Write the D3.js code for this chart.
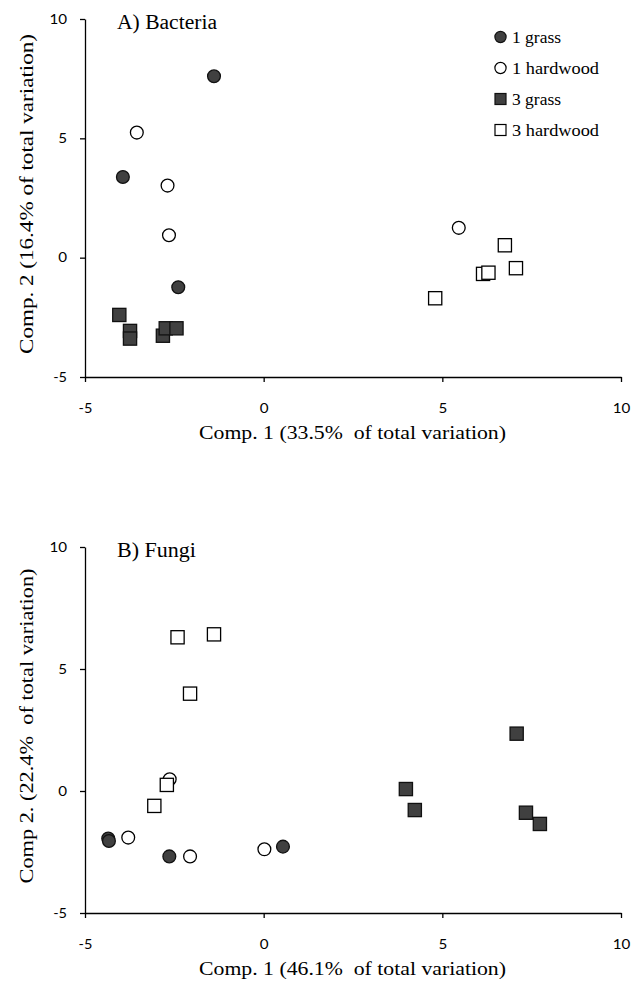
<!DOCTYPE html>
<html><head><meta charset="utf-8">
<script src="https://cdn.jsdelivr.net/npm/d3@7"></script>
<style>body{margin:0;background:#fff}svg{display:block}</style>
</head><body><div id="c"></div>
<script>
// ---- data ----
const groups = ["1 grass", "1 hardwood", "3 grass", "3 hardwood"];
const xTicks = [-5, 0, 5, 10];
const yTicks = [-5, 0, 5, 10];

// Panel A: Bacteria
const bacteria1Grass = [[-1.39, 7.60], [-3.94, 3.38], [-2.39, -1.24]];
const bacteria1Hardwood = [[-3.55, 5.24], [-2.69, 3.02], [-2.65, 0.94], [5.46, 1.25]];
const bacteria3Grass = [[-4.04, -2.40], [-3.74, -3.07], [-3.74, -3.39], [-2.82, -3.27], [-2.74, -2.96], [-2.44, -2.96]];
const bacteria3Hardwood = [[6.75, 0.52], [7.06, -0.44], [6.14, -0.68], [6.29, -0.63], [4.80, -1.70]];

// Panel B: Fungi
const fungi1Grass = [[-4.35, -1.95], [-4.33, -2.05], [-2.64, -2.68], [0.54, -2.28]];
const fungi1Hardwood = [[-2.63, 0.48], [-3.79, -1.91], [-2.06, -2.68], [0.02, -2.39]];
const fungi3Grass = [[7.08, 2.35], [3.98, 0.08], [4.23, -0.78], [7.34, -0.89], [7.73, -1.35]];
const fungi3Hardwood = [[-2.41, 6.30], [-1.39, 6.42], [-2.06, 3.99], [-2.71, 0.25], [-3.06, -0.61]];

const panels = [
  {title: "A) Bacteria", xLabel: "Comp. 1 (33.5%  of total variation)", yLabel: "Comp. 2 (16.4% of total variation)",
   series: [bacteria1Grass, bacteria1Hardwood, bacteria3Grass, bacteria3Hardwood],
   top: 19, bottom: 377, titleW: 100, yLabW: 320, legend: true},
  {title: "B) Fungi", xLabel: "Comp. 1 (46.1%  of total variation)", yLabel: "Comp 2. (22.4%  of total variation)",
   series: [fungi1Grass, fungi1Hardwood, fungi3Grass, fungi3Hardwood],
   top: 547, bottom: 913, titleW: 79, yLabW: 315, legend: false}
];

// ---- drawing ----
const W = 641, H = 994;
const svg = d3.select("#c").append("svg").attr("width", W).attr("height", H);
const left = 85, right = 621;
const darkFill = "#404040";
const styles = [
  {shape: "circle", fill: darkFill, stroke: "#111"},
  {shape: "circle", fill: "#fff", stroke: "#000"},
  {shape: "square", fill: darkFill, stroke: "#111"},
  {shape: "square", fill: "#fff", stroke: "#000"}
];
const serif = "'Liberation Serif','Times New Roman',serif";
const sans = "Lato, 'Open Sans', sans-serif";

function marker(g, st, x, y) {
  if (st.shape === "circle") {
    g.append("circle").attr("cx", x).attr("cy", y).attr("r", 6.4)
      .attr("fill", st.fill).attr("stroke", st.stroke).attr("stroke-width", 1.3);
  } else {
    g.append("rect").attr("x", x - 6.6).attr("y", y - 6.6).attr("width", 13.2).attr("height", 13.2)
      .attr("fill", st.fill).attr("stroke", st.stroke).attr("stroke-width", 1.3);
  }
}
function tickW(t) { const s = String(t); return s.replace("-", "").length * 8.8 + (s.includes("-") ? 5 : 0); }

panels.forEach(p => {
  const x = d3.scaleLinear().domain([-5, 10]).range([left, right]);
  const y = d3.scaleLinear().domain([-5, 10]).range([p.bottom, p.top]);
  const g = svg.append("g");

  const fmt = d => String(d);
  const xa = g.append("g").attr("transform", `translate(0,${p.bottom})`)
    .call(d3.axisBottom(x).tickValues(xTicks).tickFormat(fmt).tickSize(5).tickPadding(22).tickSizeOuter(0));
  const ya = g.append("g").attr("transform", `translate(${left},0)`)
    .call(d3.axisLeft(y).tickValues(yTicks).tickFormat(fmt).tickSize(5).tickPadding(13).tickSizeOuter(0));
  [xa, ya].forEach(a => {
    a.select(".domain").attr("stroke", "#000").attr("stroke-width", 1.3);
    a.selectAll(".tick line").attr("stroke", "#000").attr("stroke-width", 1.3);
    a.selectAll(".tick text").attr("font-family", sans).attr("font-size", 13).attr("fill", "#000")
      .attr("textLength", d => tickW(d)).attr("lengthAdjust", "spacingAndGlyphs");
  });

  g.append("text").attr("x", 117).attr("y", p.top + 9.5).attr("font-family", serif)
    .attr("font-size", 20).attr("textLength", p.titleW).attr("lengthAdjust", "spacingAndGlyphs").text(p.title);

  g.append("text").attr("x", 352.5).attr("y", p.bottom + 62).attr("text-anchor", "middle")
    .attr("font-family", serif).attr("font-size", 19).style("white-space", "pre")
    .attr("textLength", 307).attr("lengthAdjust", "spacingAndGlyphs").text(p.xLabel);

  g.append("text").attr("transform", `translate(33,${(p.top + p.bottom) / 2 - 4}) rotate(-90)`)
    .attr("text-anchor", "middle").attr("font-family", serif).attr("font-size", 19)
    .style("white-space", "pre").attr("textLength", p.yLabW).attr("lengthAdjust", "spacingAndGlyphs").text(p.yLabel);

  p.series.forEach((pts, i) => {
    const sg = g.append("g");
    pts.forEach(d => marker(sg, styles[i], x(d[0]), y(d[1])));
  });

  if (p.legend) {
    const lg = g.append("g");
    groups.forEach((name, i) => {
      const ly = 37 + i * 31;
      const st = styles[i];
      if (st.shape === "circle") {
        lg.append("circle").attr("cx", 500.5).attr("cy", ly).attr("r", 5.6)
          .attr("fill", st.fill).attr("stroke", st.stroke).attr("stroke-width", 1.2);
      } else {
        lg.append("rect").attr("x", 495).attr("y", ly - 5.5).attr("width", 11).attr("height", 11)
          .attr("fill", st.fill).attr("stroke", st.stroke).attr("stroke-width", 1.2);
      }
      lg.append("text").attr("x", 512).attr("y", ly + 5.5).attr("font-family", serif)
        .attr("font-size", 17).attr("textLength", name.length > 7 ? 87 : 49)
        .attr("lengthAdjust", "spacingAndGlyphs").text(name);
    });
  }
});
</script></body></html>
